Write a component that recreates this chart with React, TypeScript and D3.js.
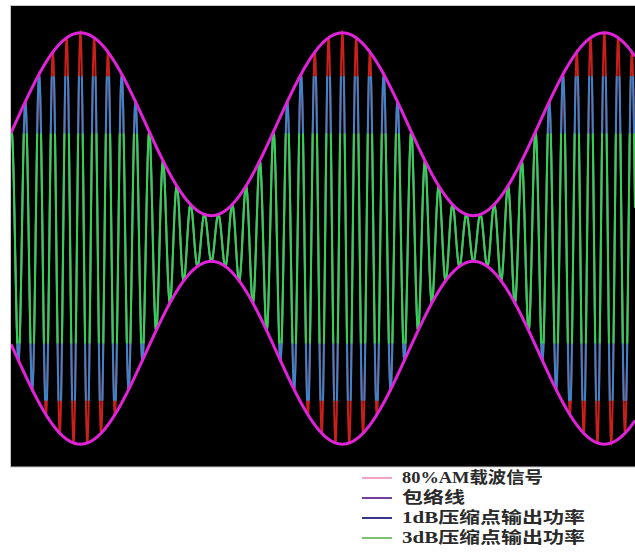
import React from "react";
import * as d3 from "d3";

// ---- data ----
const modulationIndex = 0.8; // 80% AM
const carrierCyclesPerEnvelope = 19;
const timeDomain = [-0.265, 2.117]; // in envelope periods
const signalColors = ["#c8201a"]; // full 80% AM carrier
const compressionNames = ["1dB", "3dB"];
const compressionLimits = [1.42, 0.92];
const compressionColors = ["#3c84cc", "#33d24e"];
const envelopeColor = "#e022d8";
const legendLabels = ["80%AM载波信号", "包络线", "1dB压缩点输出功率", "3dB压缩点输出功率"];
const legendColors = ["#f2a4c8", "#74409c", "#35358a", "#7cc070"];
const legendTextWidths = [141, 63, 183, 183];

const W = 635;
const H = 553;
const plot = { left: 11, right: 635, top: 6, bottom: 467 };

export default function App() {
  const x = d3.scaleLinear().domain(timeDomain).range([plot.left, plot.right]);
  const y = d3.scaleLinear().domain([-2, 2]).range([467, 10]);

  const n = 3000;
  const ts = d3.range(n + 1).map((i) => timeDomain[0] + ((timeDomain[1] - timeDomain[0]) * i) / n);
  const env = (t: number) => 1 + modulationIndex * Math.cos(2 * Math.PI * t);
  const sig = (t: number) => env(t) * Math.cos(2 * Math.PI * carrierCyclesPerEnvelope * t);

  const sigLine = d3
    .line<number>()
    .x((t) => x(t))
    .y((t) => y(sig(t)))(ts) as string;
  const envTop = d3
    .line<number>()
    .x((t) => x(t))
    .y((t) => y(env(t)))(ts) as string;
  const envBot = d3
    .line<number>()
    .x((t) => x(t))
    .y((t) => y(-env(t)))(ts) as string;

  const legendRowY = [477, 497, 517, 537];

  return (
    <svg
      width={W}
      height={H}
      style={{ position: "absolute", left: 0, top: 0, background: "#fff" }}
    >
      <defs>
        <clipPath id="plotClip">
          <rect x={plot.left} y={plot.top} width={plot.right - plot.left} height={plot.bottom - plot.top} />
        </clipPath>
        {compressionLimits.map((lim, i) => (
          <clipPath id={`band${i}`} key={i}>
            <rect
              x={plot.left}
              y={y(lim)}
              width={plot.right - plot.left}
              height={y(-lim) - y(lim)}
            />
          </clipPath>
        ))}
      </defs>
      <rect
        x={plot.left - 0.5}
        y={plot.top - 0.5}
        width={plot.right - plot.left + 1}
        height={plot.bottom - plot.top + 0.5}
        fill="#000"
        stroke="#c8c8c8"
        strokeWidth={1}
      />
      <g clipPath="url(#plotClip)">
        <path d={sigLine} fill="none" stroke={signalColors[0]} strokeWidth={2} />
        {compressionLimits.map((_, i) => (
          <g key={compressionNames[i]} clipPath={`url(#band${i})`}>
            <path d={sigLine} fill="none" stroke={compressionColors[i]} strokeWidth={2} />
          </g>
        ))}
        <path d={envTop} fill="none" stroke={envelopeColor} strokeWidth={3} />
        <path d={envBot} fill="none" stroke={envelopeColor} strokeWidth={3} />
      </g>
      <g>
        {legendLabels.map((lab, i) => (
          <g key={lab}>
            <line
              x1={362}
              x2={392}
              y1={legendRowY[i] + 1}
              y2={legendRowY[i] + 1}
              stroke={legendColors[i]}
              strokeWidth={2}
            />
            <text
              x={402}
              y={legendRowY[i] + 6}
              fontFamily="'Liberation Serif', 'Noto Sans CJK SC', serif"
              fontSize={16}
              fontWeight="bold"
              fill="#2a2a2a"
              textLength={legendTextWidths[i]}
              lengthAdjust="spacingAndGlyphs"
            >
              {lab}
            </text>
          </g>
        ))}
      </g>
    </svg>
  );
}
